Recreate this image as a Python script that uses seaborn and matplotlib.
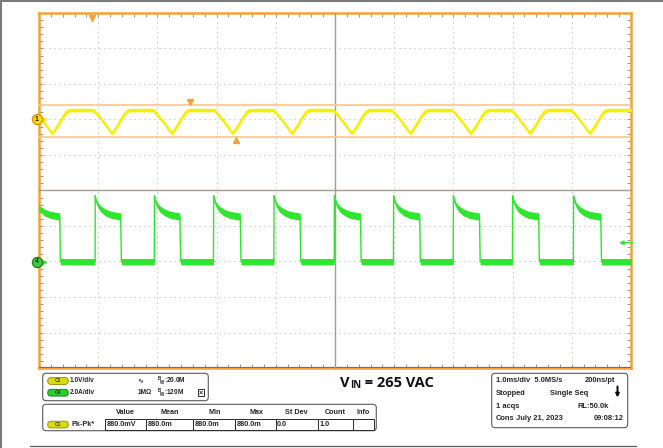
import numpy as np
import pandas as pd
import matplotlib
matplotlib.use("Agg")
import matplotlib.pyplot as plt
import seaborn as sns
from matplotlib.patches import FancyBboxPatch, Rectangle
from matplotlib.ticker import MultipleLocator

time_limits_ms = [-5.0, 5.0]          # 1.0 ms/div, 10 div
ch1_V_per_div = 1.0
ch4_A_per_div = 2.0
ch1_offset_div = 2.006                # channel 1 ground above centre
ch4_offset_div = -2.006               # channel 4 ground below centre

# Channel 1 (yellow): valley times and one-period shape around a valley
yellow_valley_ms = [-4.78, -3.77, -2.76, -1.73, -0.73, 0.28, 1.27, 2.29, 3.29, 4.30]
yellow_shape_dt_ms = [-0.31, -0.22, -0.12, -0.03, 0.0, 0.03, 0.10, 0.18, 0.25, 0.30]
yellow_shape_V = [0.26, 0.09, -0.12, -0.33, -0.39, -0.34, -0.17, 0.06, 0.22, 0.26]
yellow_noise_V = 0.05

# Channel 4 (green): rising / falling edge times and decay of the high part
green_rise_ms = [-5.08, -4.05, -3.05, -2.05, -1.03, -0.01, 0.99, 2.00, 3.00, 4.03]
green_fall_ms = [-4.65, -3.62, -2.62, -1.60, -0.59, 0.43, 1.43, 2.44, 3.44, 4.49]
green_decay_dt_ms = [0.0, 0.012, 0.04, 0.09, 0.17, 0.27, 0.43]
green_decay_A = [3.72, 3.50, 3.22, 2.98, 2.78, 2.64, 2.55]
green_decay_noise_A = [0.04, 0.08, 0.13, 0.17, 0.19, 0.20, 0.20]
green_low_A = 0.0
green_low_noise_A = 0.18

cursor_levels_V = [0.40, -0.49]
cursor_marker_ms = [-2.45, -1.68]
cursor_marker_V = [0.50, -0.58]
trigger_pos_ms = -4.10
trigger_level_A = 1.07

meas_headers = ["Value", "Mean", "Min", "Max", "St Dev", "Count", "Info"]
meas_values = ["880.0mV", "880.0m", "880.0m", "880.0m", "0.0", "1.0", ""]

# ---------------- build traces ----------------
yt, yv = [], []
for tv in yellow_valley_ms:
    for dt, v in zip(yellow_shape_dt_ms, yellow_shape_V):
        yt.append(tv + dt)
        yv.append(v)
yt.append(5.1)
yv.append(yellow_shape_V[-1])
df_y = pd.DataFrame({"t": yt, "v": yv})

gt, ga, gn = [], [], []
for r, f in zip(green_rise_ms, green_fall_ms):
    gt.append(r - 0.003); ga.append(green_low_A); gn.append(green_low_noise_A)
    for dt, a, n in zip(green_decay_dt_ms, green_decay_A, green_decay_noise_A):
        if r + dt < f:
            gt.append(r + dt); ga.append(a); gn.append(n)
    gt.append(f); ga.append(green_decay_A[-1]); gn.append(green_decay_noise_A[-1])
    gt.append(f + 0.012); ga.append(green_low_A); gn.append(green_low_noise_A)
gt.append(5.1); ga.append(green_low_A); gn.append(green_low_noise_A)
df_g = pd.DataFrame({"t": gt, "a": ga, "n": gn})

# ---------------- figure ----------------
sns.set_theme(style="white")
plt.rcParams["font.family"] = ["Liberation Sans", "DejaVu Sans"]
plt.rcParams["mathtext.fontset"] = "custom"
plt.rcParams["mathtext.rm"] = "Liberation Sans"
plt.rcParams["mathtext.bf"] = "Liberation Sans:bold"

W, H = 663, 448
fig = plt.figure(figsize=(W / 100, H / 100), dpi=100)
fig.patch.set_facecolor("white")
L, R, T, B = 39, 631, 13, 368
pos = [L / W, (H - B) / H, (R - L) / W, (B - T) / H]

ORANGE = "#f3a13a"
TICK = "#9c968c"
YEL = "#f4f000"
GRN = "#2ee62e"

# grid axes
ax_g = fig.add_axes(pos)
ax_g.set_xlim(-5, 5)
ax_g.set_ylim(-5, 5)
for a in (ax_g.xaxis, ax_g.yaxis):
    a.set_major_locator(MultipleLocator(1))
    a.set_minor_locator(MultipleLocator(0.2))
ax_g.grid(True, which="major", color="#b8b8b8", linestyle=(0, (1, 3.5)), linewidth=0.8)
ax_g.tick_params(which="both", direction="in", top=True, right=True, bottom=True, left=True,
                 labelbottom=False, labelleft=False, color=TICK, width=0.7, length=2.6)
for sp in ax_g.spines.values():
    sp.set_color(ORANGE)
    sp.set_linewidth(1.8)
ax_g.axhline(-4.975, color="#707070", lw=0.9, zorder=3)
ax_g.plot([trigger_pos_ms], [0.985], marker="v", color=ORANGE, markersize=5,
          transform=ax_g.get_xaxis_transform(), clip_on=False, zorder=4)

# centre crosshair axes
ax_c = fig.add_axes(pos)
ax_c.patch.set_visible(False)
ax_c.set_xlim(-5, 5)
ax_c.set_ylim(-5, 5)
for a in (ax_c.xaxis, ax_c.yaxis):
    a.set_major_locator(MultipleLocator(1))
    a.set_minor_locator(MultipleLocator(0.2))
ax_c.spines["left"].set_position(("data", 0))
ax_c.spines["bottom"].set_position(("data", 0))
ax_c.spines["top"].set_visible(False)
ax_c.spines["right"].set_visible(False)
for s in ("left", "bottom"):
    ax_c.spines[s].set_color("#a49c8c")
    ax_c.spines[s].set_linewidth(1.0)
ax_c.tick_params(which="both", direction="inout", length=3.6, width=0.7, color=TICK,
                 labelbottom=False, labelleft=False)
ax_c.grid(False)

# channel 1 axes (volts)
ax1 = fig.add_axes(pos)
ax1.patch.set_visible(False)
ax1.set_xlim(*time_limits_ms)
ax1.set_ylim((-5 - ch1_offset_div) * ch1_V_per_div, (5 - ch1_offset_div) * ch1_V_per_div)
ax1.axis("off")
for c in cursor_levels_V:
    ax1.axhline(c, color="#f8cd90", lw=1.3, zorder=1)
ax1.fill_between(df_y["t"], df_y["v"] - yellow_noise_V, df_y["v"] + yellow_noise_V,
                 color=YEL, lw=0, zorder=2)
sns.lineplot(data=df_y, x="t", y="v", ax=ax1, color=YEL, linewidth=1.5,
             estimator=None, sort=False, zorder=3)
ax1.set_xlim(*time_limits_ms)
ax1.set_ylim((-5 - ch1_offset_div) * ch1_V_per_div, (5 - ch1_offset_div) * ch1_V_per_div)
ax1.axis("off")
ax1.plot([cursor_marker_ms[0]], [cursor_marker_V[0]], marker="v", color=ORANGE, markersize=5, zorder=4)
ax1.plot([cursor_marker_ms[1]], [cursor_marker_V[1]], marker="^", color=ORANGE, markersize=5, zorder=4)
# ground marker ch1
ax1.plot([-4.925], [0], marker=">", color=YEL, markersize=4, clip_on=False, zorder=5)
ax1.plot([-4.97, -4.93], [0, 0], color=YEL, lw=1, clip_on=False, zorder=5)
ax1.plot([-5.039], [0], marker="o", markersize=7.3, markerfacecolor="#f6e000",
         markeredgecolor="#e08a00", markeredgewidth=0.9, clip_on=False, zorder=6)
ax1.text(-5.039, 0, "1", ha="center", va="center", fontsize=5, color="#202020",
         fontweight="bold", zorder=7, clip_on=False)

# channel 4 axes (amps)
ax4 = fig.add_axes(pos)
ax4.patch.set_visible(False)
ax4.fill_between(df_g["t"], df_g["a"] - df_g["n"], df_g["a"] + df_g["n"], color=GRN, lw=0, zorder=2)
sns.lineplot(data=df_g, x="t", y="a", ax=ax4, color=GRN, linewidth=1.0,
             estimator=None, sort=False, zorder=3)
ax4.set_xlim(*time_limits_ms)
ax4.set_ylim((-5 - ch4_offset_div) * ch4_A_per_div, (5 - ch4_offset_div) * ch4_A_per_div)
ax4.axis("off")
ax4.plot([-4.925], [0], marker=">", color=GRN, markersize=4, clip_on=False, zorder=5)
ax4.plot([-4.97, -4.93], [0, 0], color=GRN, lw=1, clip_on=False, zorder=5)
ax4.plot([-5.039], [0], marker="o", markersize=7.3, markerfacecolor="#3ccc3c",
         markeredgecolor="#1f7a1f", markeredgewidth=0.9, clip_on=False, zorder=6)
ax4.text(-5.039, 0, "4", ha="center", va="center", fontsize=5, color="#103010",
         fontweight="bold", zorder=7, clip_on=False)
ax4.annotate("", xy=(4.80, trigger_level_A), xytext=(5.03, trigger_level_A),
             arrowprops=dict(arrowstyle="-|>", color=GRN, lw=1.0, mutation_scale=6,
                             shrinkA=0, shrinkB=0),
             annotation_clip=False)

# ---------------- pixel overlay for panels ----------------
ax_p = fig.add_axes([0, 0, 1, 1])
ax_p.set_xlim(0, W)
ax_p.set_ylim(H, 0)
ax_p.axis("off")
ax_p.patch.set_visible(False)

ax_p.plot([0, W], [1, 1], color="#7a7a7a", lw=1.5)
ax_p.plot([1, 1], [0, H], color="#7a7a7a", lw=1.5)
ax_p.plot([30, 636], [446.5, 446.5], color="#5a5a5a", lw=0.9)


def panel(x0, y0, x1, y1):
    ax_p.add_patch(FancyBboxPatch((x0, y0), x1 - x0, y1 - y0,
                                  boxstyle="round,pad=0,rounding_size=3.5",
                                  fc="white", ec="#5a5a5a", lw=0.8))


def chip(x, y, label, fc, ec, tc):
    ax_p.add_patch(FancyBboxPatch((x, y - 3.4), 20.6, 6.8,
                                  boxstyle="round,pad=0,rounding_size=3.4",
                                  fc=fc, ec=ec, lw=0.6))
    ax_p.text(x + 10.3, y, label, ha="center", va="center", fontsize=3.6,
              color=tc, fontweight="bold")


BOLD = dict(fontweight="bold", color="#262626", va="center")

panel(42.7, 373.3, 208.3, 400.7)
chip(47.7, 381.0, "C1", "#dada12", "#8a8a00", "#3a3a00")
chip(47.7, 392.7, "C4", "#2ccc2c", "#157015", "#0a300a")
ax_p.text(70, 381.0, "1.0V/div", fontsize=4.7, ha="left", **BOLD)
ax_p.text(70, 392.7, "2.0A/div", fontsize=4.7, ha="left", **BOLD)
ax_p.text(137.5, 380.5, "∿", fontsize=5, ha="left", **BOLD)
ax_p.text(157, 381.0, r"$^{\mathbf{B}}\!_{\mathbf{W}}$:20.0M", fontsize=4.7, ha="left", **BOLD)
ax_p.text(137.7, 392.7, "1MΩ", fontsize=4.7, ha="left", **BOLD)
ax_p.text(157, 392.7, r"$^{\mathbf{B}}\!_{\mathbf{W}}$:120M", fontsize=4.7, ha="left", **BOLD)
ax_p.add_patch(Rectangle((197.5, 389.5), 6, 6.5, fc="white", ec="#303030", lw=0.7))
ax_p.text(200.5, 392.8, "×", fontsize=5, ha="center", **BOLD)

panel(42.7, 404.3, 376.3, 430.7)
head_x = [125.3, 170.0, 214.3, 256.7, 296.7, 335.0, 363.3]
for hx, h in zip(head_x, meas_headers):
    ax_p.text(hx, 412.7, h, fontsize=5.2, ha="center", **BOLD)
chip(47.7, 424.6, "C1", "#dada12", "#8a8a00", "#3a3a00")
ax_p.text(71, 424.6, "Pk-Pk*", fontsize=5.2, ha="left", **BOLD)
cell_x = [105.3, 146.0, 193.3, 235.0, 275.7, 317.7, 353.3, 374.3]
for i, val in enumerate(meas_values):
    ax_p.add_patch(Rectangle((cell_x[i], 419.3), cell_x[i + 1] - cell_x[i], 10.7,
                             fc="white", ec="#2a2a2a", lw=0.7))
    ax_p.text(cell_x[i] + 1.5, 424.8, val, fontsize=5.2, ha="left", **BOLD)

panel(491.7, 373.3, 627.7, 427.7)
ax_p.text(496, 380.7, "1.0ms/div  5.0MS/s", fontsize=5.4, ha="left", **BOLD)
ax_p.text(615, 380.7, "200ns/pt", fontsize=5.4, ha="right", **BOLD)
ax_p.text(496, 393.3, "Stopped", fontsize=5.4, ha="left", **BOLD)
ax_p.text(550, 393.3, "Single Seq", fontsize=5.4, ha="left", **BOLD)
ax_p.annotate("", xy=(617.5, 397.5), xytext=(617.5, 386.5),
              arrowprops=dict(arrowstyle="-|>", color="black", lw=1.4, mutation_scale=5,
                              shrinkA=0, shrinkB=0))
ax_p.text(496, 406.0, "1 acqs", fontsize=5.4, ha="left", **BOLD)
ax_p.text(608.5, 406.0, "RL:50.0k", fontsize=5.4, ha="right", **BOLD)
ax_p.text(496, 418.3, "Cons", fontsize=5.4, ha="left", **BOLD)
ax_p.text(516, 418.3, "July 21, 2023", fontsize=5.4, ha="left", **BOLD)
ax_p.text(624, 418.3, "09:08:12", fontsize=5.4, ha="right", **BOLD)

# V_IN label
vfont = dict(family=["Open Sans", "DejaVu Sans"], fontweight="bold", color="#111111")
t1 = ax_p.text(340, 386.7, "V", fontsize=10.5, ha="left", va="baseline", **vfont)
t2 = ax_p.annotate("IN", xy=(1, 0), xycoords=t1, xytext=(0.2, -1.0),
                   textcoords="offset points", fontsize=7, ha="left", va="bottom", **vfont)
t3 = ax_p.annotate(" = 265 VAC", xy=(1, 0), xycoords=(t2, t1), xytext=(0, 0),
                   textcoords="offset points", fontsize=10.5, ha="left", va="bottom", **vfont)

fig.savefig("out.png", dpi=100, facecolor="white")
